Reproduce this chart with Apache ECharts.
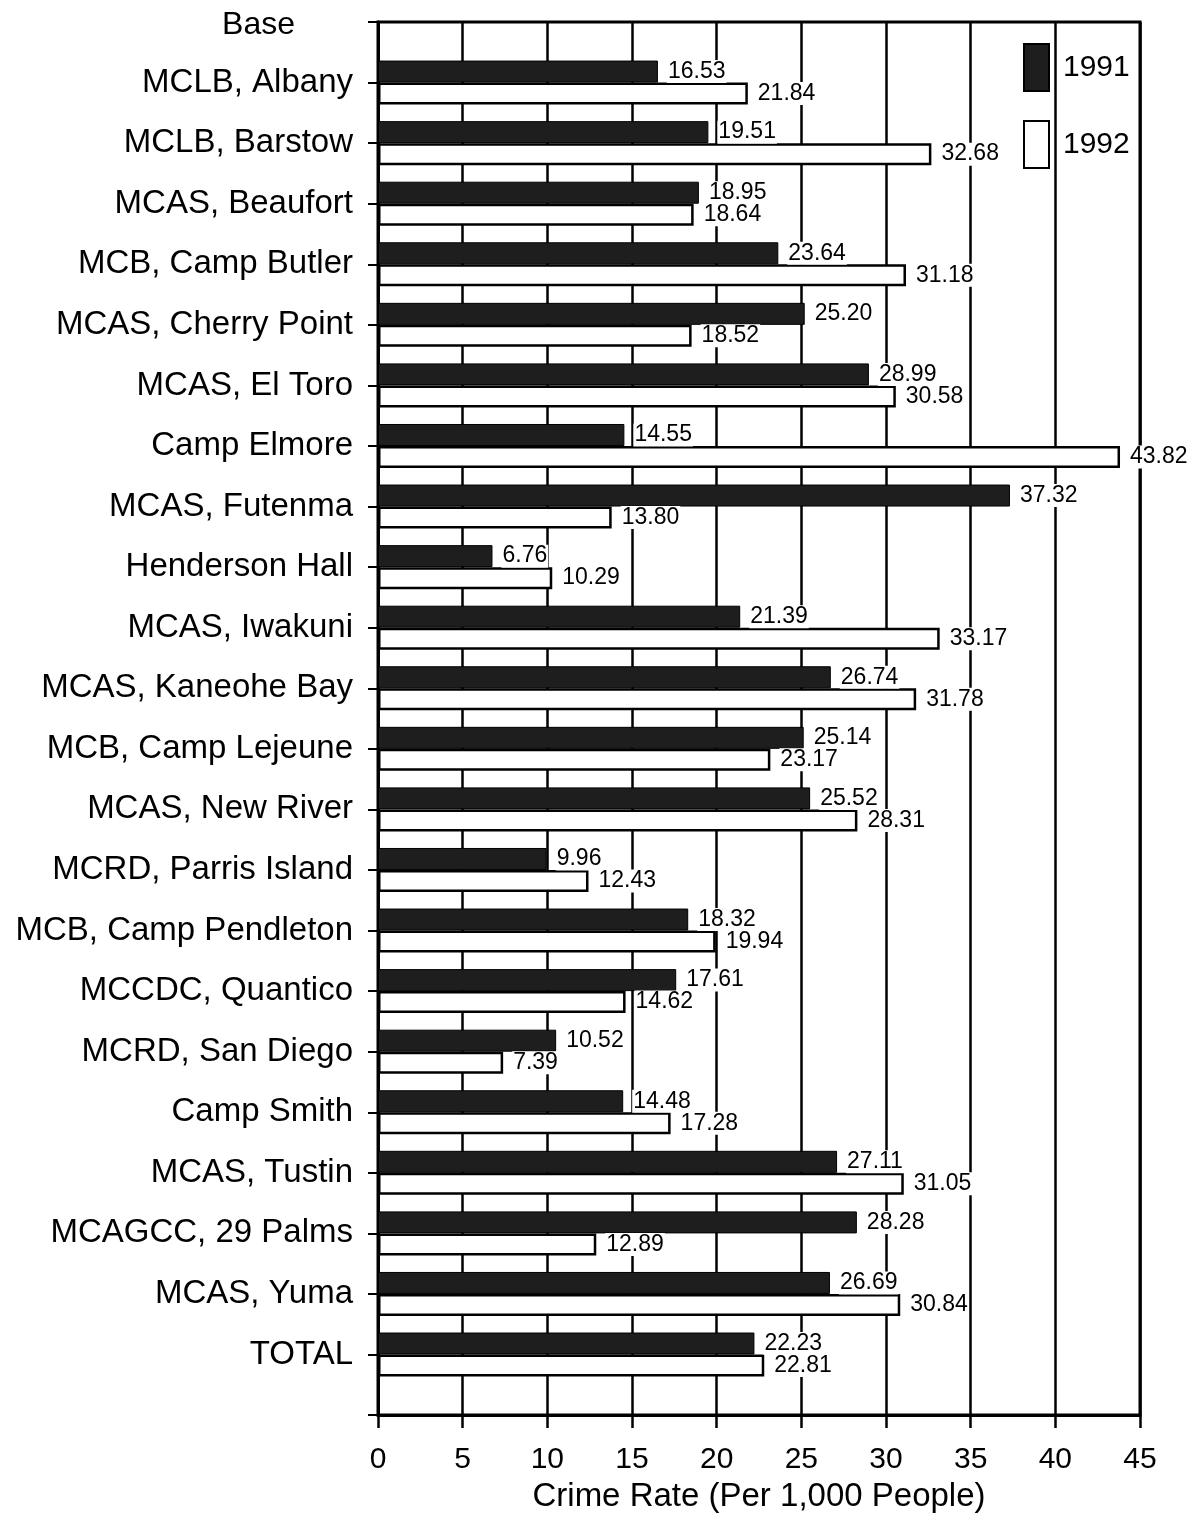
<!DOCTYPE html>
<html>
<head>
<meta charset="utf-8">
<style>
  html, body { margin: 0; padding: 0; background: #fff; }
  #main { width: 1192px; height: 1518px; }
</style>
<script src="https://cdn.jsdelivr.net/npm/echarts@6/dist/echarts.min.js"></script>
</head>
<body>
<div id="main"></div>
<script>
// bases, top to bottom
var bases = ['MCLB, Albany', 'MCLB, Barstow', 'MCAS, Beaufort', 'MCB, Camp Butler',
    'MCAS, Cherry Point', 'MCAS, El Toro', 'Camp Elmore', 'MCAS, Futenma',
    'Henderson Hall', 'MCAS, Iwakuni', 'MCAS, Kaneohe Bay', 'MCB, Camp Lejeune',
    'MCAS, New River', 'MCRD, Parris Island', 'MCB, Camp Pendleton', 'MCCDC, Quantico',
    'MCRD, San Diego', 'Camp Smith', 'MCAS, Tustin', 'MCAGCC, 29 Palms',
    'MCAS, Yuma', 'TOTAL'];
var rate1991 = [16.53, 19.51, 18.95, 23.64, 25.20, 28.99, 14.55, 37.32, 6.76, 21.39,
    26.74, 25.14, 25.52, 9.96, 18.32, 17.61, 10.52, 14.48, 27.11, 28.28, 26.69, 22.23];
var rate1992 = [21.84, 32.68, 18.64, 31.18, 18.52, 30.58, 43.82, 13.80, 10.29, 33.17,
    31.78, 23.17, 28.31, 12.43, 19.94, 14.62, 7.39, 17.28, 31.05, 12.89, 30.84, 22.81];
var xTicks = [0, 5, 10, 15, 20, 25, 30, 35, 40, 45];

var FONT = '"Liberation Sans", Arial, Helvetica, sans-serif';

// empty slot at each end so the frame runs half a row past the first and last base
var cats = [''].concat(bases, ['']);
var s1991 = [null].concat(rate1991, [null]);
var s1992 = [null].concat(rate1992, [null]);

var myChart = echarts.init(document.getElementById('main'));

var valueLabel = {
    show: true,
    position: 'right',
    distance: 9,
    color: '#000',
    fontFamily: FONT,
    fontSize: 23,
    backgroundColor: '#fff',
    padding: [0, 1],
    formatter: function (p) { return p.value.toFixed(2); }
};

var option = {
    backgroundColor: '#fff',
    animation: false,
    textStyle: { fontFamily: FONT, color: '#000' },
    legend: {
        data: ['1991', '1992'],
        orient: 'vertical',
        left: 1023,
        top: 43,
        padding: 0,
        icon: 'rect',
        itemWidth: 25,
        itemHeight: 47,
        itemGap: 28,
        textStyle: { fontSize: 30, color: '#000', fontFamily: FONT, padding: [0, 0, 0, 9] }
    },
    grid: {
        left: 378,
        right: 52,
        top: 22,
        bottom: 101,
        show: true,
        borderColor: '#000',
        borderWidth: 3
    },
    xAxis: {
        type: 'value',
        min: xTicks[0],
        max: xTicks[xTicks.length - 1],
        interval: 5,
        name: 'Crime Rate (Per 1,000 People)',
        nameLocation: 'middle',
        nameGap: 61,
        nameTextStyle: { fontSize: 33, color: '#000', fontFamily: FONT },
        axisLine: { show: true, lineStyle: { color: '#000', width: 3 } },
        axisTick: { show: true, length: 13, lineStyle: { color: '#000', width: 2.5 } },
        axisLabel: { fontSize: 30, color: '#000', margin: 30, fontFamily: FONT },
        splitLine: { show: true, lineStyle: { color: '#000', width: 2.5 } }
    },
    yAxis: {
        type: 'category',
        data: cats,
        inverse: true,
        boundaryGap: false,
        name: 'Base',
        nameLocation: 'start',
        nameGap: -3,
        nameTextStyle: {
            fontSize: 32, color: '#000', fontFamily: FONT,
            align: 'right', verticalAlign: 'middle', padding: [0, 83, 0, 0]
        },
        axisLine: { show: true, lineStyle: { color: '#000', width: 3 } },
        axisTick: { show: true, length: 10, lineStyle: { color: '#000', width: 2 } },
        axisLabel: { fontSize: 33, color: '#000', margin: 25, fontFamily: FONT, interval: 0 },
        splitLine: { show: false }
    },
    series: [
        {
            name: '1991',
            type: 'bar',
            data: s1991,
            barWidth: 22,
            barGap: '0%',
            itemStyle: { color: '#1e1e1e', borderColor: '#000', borderWidth: 1 },
            label: valueLabel
        },
        {
            name: '1992',
            type: 'bar',
            data: s1992,
            barWidth: 22,
            itemStyle: { color: '#fff', borderColor: '#000', borderWidth: 2.5 },
            label: valueLabel
        }
    ]
};

myChart.setOption(option);
window.onresize = myChart.resize;
</script>
</body>
</html>
